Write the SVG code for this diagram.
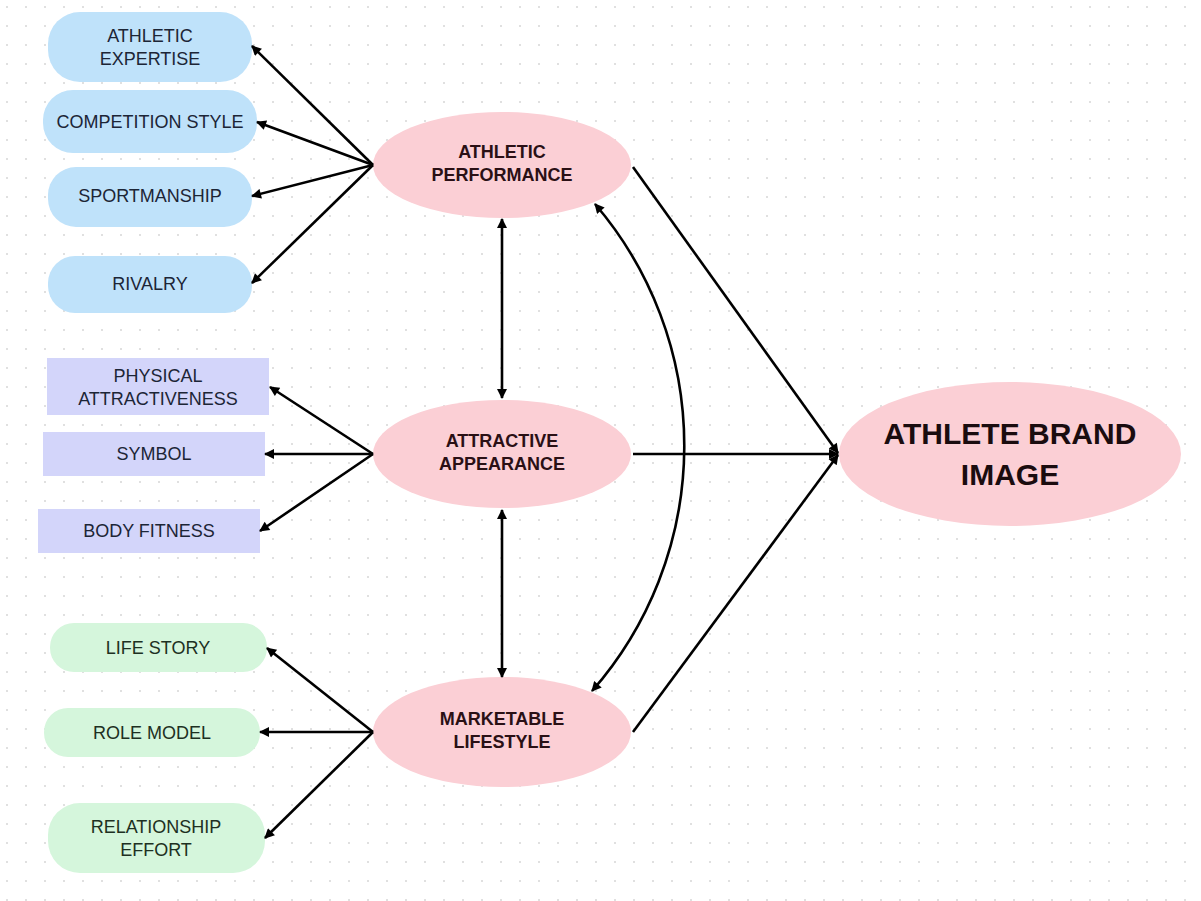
<svg xmlns="http://www.w3.org/2000/svg" width="1201" height="901" viewBox="0 0 1201 901">
<defs>
<pattern id="dots" width="19" height="19" patternUnits="userSpaceOnUse" x="5" y="5">
<circle cx="2" cy="2" r="1.1" fill="#d9d9d9"/>
</pattern>
<marker id="ah" viewBox="0 0 10 10" refX="9" refY="5" markerWidth="12" markerHeight="10" markerUnits="userSpaceOnUse" orient="auto-start-reverse">
<path d="M0,0 L10,5 L0,10 Z" fill="#000"/>
</marker>
<style>
.blue{fill:#bfe2fa}
.purple{fill:#d3d5fa}
.green{fill:#d5f6dc}
.pink{fill:#fbcfd5}
.lbl{font-family:"Liberation Sans",Arial,sans-serif;font-size:18px;text-anchor:middle;fill:#1c2536}
.glbl{font-family:"Liberation Sans",Arial,sans-serif;font-size:18px;text-anchor:middle;fill:#1d3022}
.el{font-family:"Liberation Sans",Arial,sans-serif;font-size:18px;font-weight:bold;text-anchor:middle;fill:#2a1015}
.big{font-family:"Liberation Sans",Arial,sans-serif;font-size:30px;font-weight:bold;text-anchor:middle;fill:#1a0c0f}
.c{fill:none;stroke:#000;stroke-width:2.6}
</style>
</defs>
<rect width="1201" height="901" fill="#ffffff"/>
<rect width="1201" height="901" fill="url(#dots)"/>

<g id="athletic-expertise"><rect class="blue" x="48" y="12" width="204" height="70" rx="32"/><text class="lbl" x="150" y="41.5">ATHLETIC</text><text class="lbl" x="150" y="64.5">EXPERTISE</text></g>
<g id="competition-style"><rect class="blue" x="43" y="90" width="214" height="63" rx="30"/><text class="lbl" x="150" y="127.5">COMPETITION STYLE</text></g>
<g id="sportmanship"><rect class="blue" x="48" y="167" width="204" height="60" rx="28"/><text class="lbl" x="150" y="201.5">SPORTMANSHIP</text></g>
<g id="rivalry"><rect class="blue" x="48" y="256" width="204" height="57" rx="27"/><text class="lbl" x="150" y="289.5">RIVALRY</text></g>

<g id="physical-attractiveness"><rect class="purple" x="47" y="358" width="222" height="57"/><text class="lbl" x="158" y="381.5">PHYSICAL</text><text class="lbl" x="158" y="404.5">ATTRACTIVENESS</text></g>
<g id="symbol"><rect class="purple" x="43" y="432" width="222" height="44"/><text class="lbl" x="154" y="459.5">SYMBOL</text></g>
<g id="body-fitness"><rect class="purple" x="38" y="509" width="222" height="44"/><text class="lbl" x="149" y="536.5">BODY FITNESS</text></g>

<g id="life-story"><rect class="green" x="50" y="623" width="217" height="49" rx="24"/><text class="glbl" x="158" y="653.5">LIFE STORY</text></g>
<g id="role-model"><rect class="green" x="44" y="708" width="216" height="49" rx="24"/><text class="glbl" x="152" y="738.5">ROLE MODEL</text></g>
<g id="relationship-effort"><rect class="green" x="48" y="803" width="217" height="70" rx="32"/><text class="glbl" x="156" y="832.5">RELATIONSHIP</text><text class="glbl" x="156" y="855.5">EFFORT</text></g>

<g id="athletic-performance"><ellipse class="pink" cx="502" cy="165" rx="129" ry="53"/><text class="el" x="502" y="158">ATHLETIC</text><text class="el" x="502" y="181">PERFORMANCE</text></g>
<g id="attractive-appearance"><ellipse class="pink" cx="502" cy="454" rx="129" ry="54"/><text class="el" x="502" y="447">ATTRACTIVE</text><text class="el" x="502" y="470">APPEARANCE</text></g>
<g id="marketable-lifestyle"><ellipse class="pink" cx="502" cy="732" rx="129" ry="55"/><text class="el" x="502" y="725">MARKETABLE</text><text class="el" x="502" y="748">LIFESTYLE</text></g>
<g id="athlete-brand-image"><ellipse class="pink" cx="1010" cy="454" rx="171" ry="72"/><text class="big" x="1010" y="444">ATHLETE BRAND</text><text class="big" x="1010" y="485">IMAGE</text></g>

<g id="connectors">
<line class="c" x1="373" y1="165" x2="252" y2="46" marker-end="url(#ah)"/>
<line class="c" x1="373" y1="165" x2="257" y2="122" marker-end="url(#ah)"/>
<line class="c" x1="373" y1="165" x2="252" y2="196" marker-end="url(#ah)"/>
<line class="c" x1="373" y1="165" x2="252" y2="283" marker-end="url(#ah)"/>
<line class="c" x1="373" y1="454" x2="270" y2="387" marker-end="url(#ah)"/>
<line class="c" x1="373" y1="454" x2="265" y2="454" marker-end="url(#ah)"/>
<line class="c" x1="373" y1="454" x2="260" y2="531" marker-end="url(#ah)"/>
<line class="c" x1="373" y1="732" x2="267" y2="648" marker-end="url(#ah)"/>
<line class="c" x1="373" y1="732" x2="260" y2="732" marker-end="url(#ah)"/>
<line class="c" x1="373" y1="732" x2="265" y2="838" marker-end="url(#ah)"/>
<line class="c" x1="502" y1="219" x2="502" y2="398" marker-start="url(#ah)" marker-end="url(#ah)"/>
<line class="c" x1="502" y1="510" x2="502" y2="677" marker-start="url(#ah)" marker-end="url(#ah)"/>
<path class="c" d="M595,204 A372,372 0 0 1 592,691" marker-start="url(#ah)" marker-end="url(#ah)"/>
<line class="c" x1="633" y1="167" x2="838" y2="453" marker-end="url(#ah)"/>
<line class="c" x1="633" y1="454" x2="838" y2="454" marker-end="url(#ah)"/>
<line class="c" x1="633" y1="732" x2="838" y2="455" marker-end="url(#ah)"/>
</g>
</svg>
